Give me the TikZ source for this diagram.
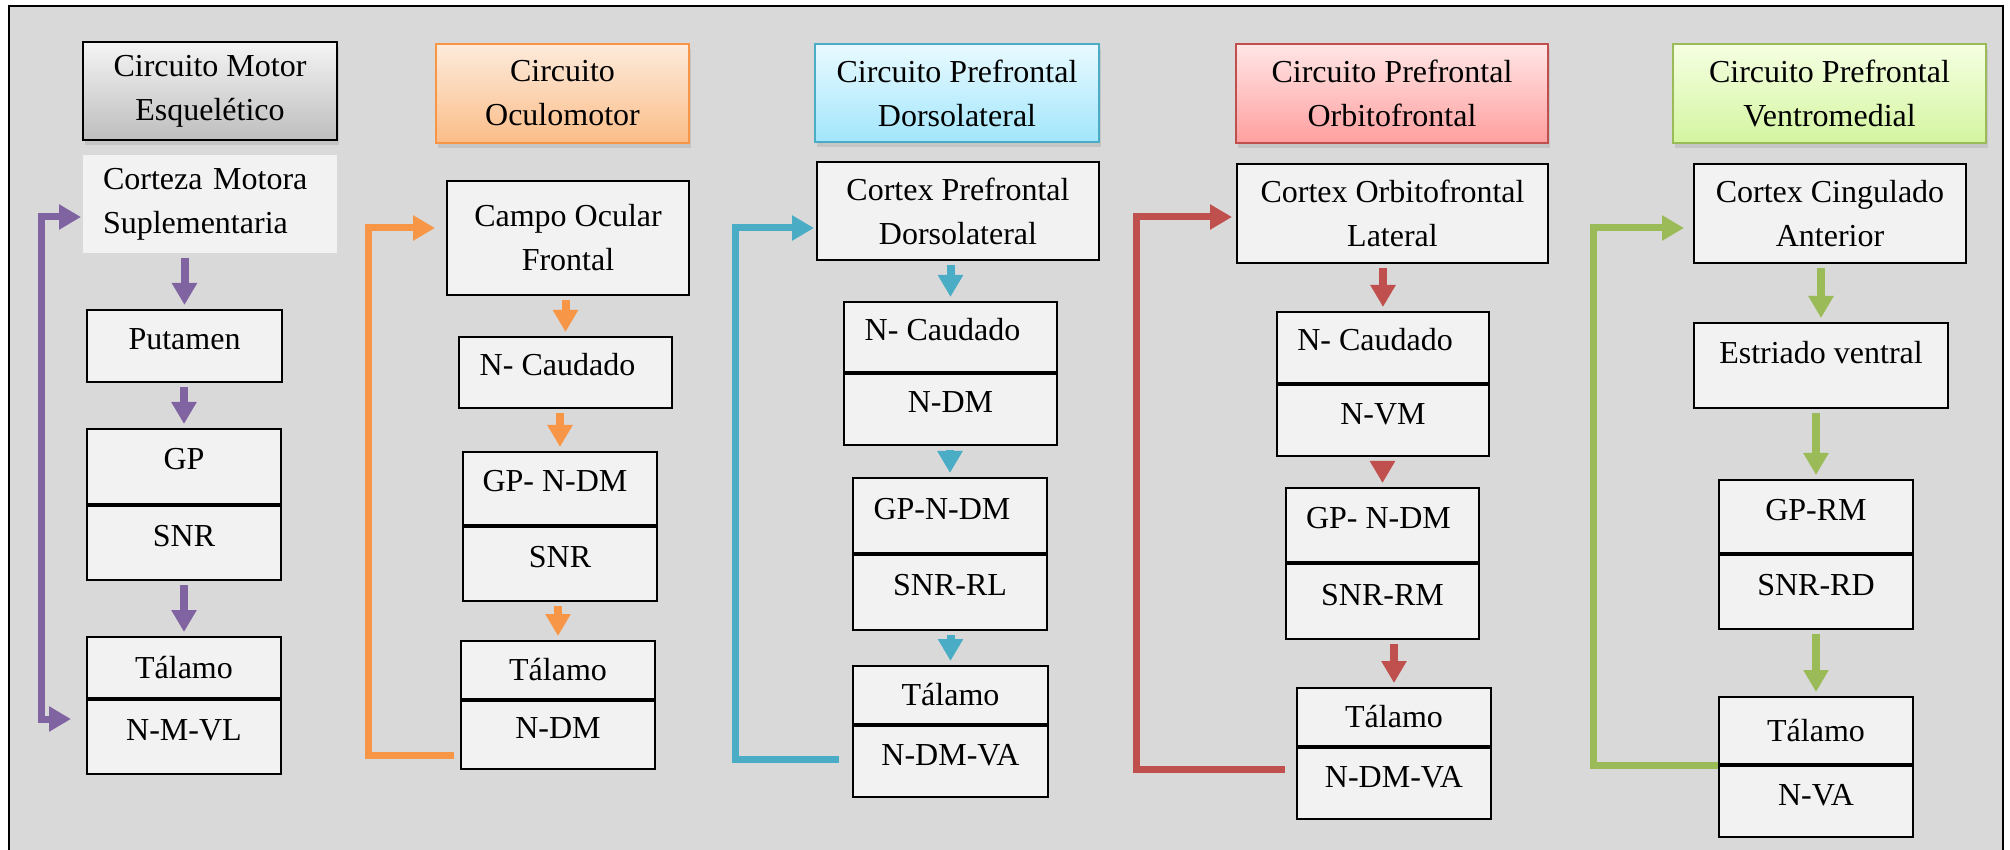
\documentclass[tikz,border=0pt]{standalone}
\usepackage{fontspec}
\setmainfont{Liberation Serif}
\usetikzlibrary{positioning, arrows.meta, shadows}

\definecolor{panel}{HTML}{D9D9D9}
\definecolor{boxfill}{HTML}{F2F2F2}
\definecolor{motorc}{HTML}{8064A2}
\definecolor{oculoc}{HTML}{F79646}
\definecolor{dorsoc}{HTML}{4BACC6}
\definecolor{orbitc}{HTML}{C0504D}
\definecolor{ventroc}{HTML}{9BBB59}
\definecolor{motortop}{HTML}{F4F4F4}
\definecolor{motorbot}{HTML}{BEBEBE}
\definecolor{oculotop}{HTML}{FDEBDC}
\definecolor{oculobot}{HTML}{FBBD88}
\definecolor{dorsotop}{HTML}{E9FAFF}
\definecolor{dorsobot}{HTML}{A2E6FB}
\definecolor{orbittop}{HTML}{FFE6E6}
\definecolor{orbitbot}{HTML}{FF9F9F}
\definecolor{ventrotop}{HTML}{F5FFE2}
\definecolor{ventrobot}{HTML}{D4F5A0}

\begin{document}
\begin{tikzpicture}[x = 0.5pt, y = -0.5pt,
		every node/.style = {font = \fontsize{16}{22}\selectfont},
		box/.style = {draw = black, line width = 1pt, fill = boxfill, inner sep = 0pt, align = center},
		high/.style = {box, text height = 11pt, text depth = 7.5pt},
		mid/.style = {box, text height = 11pt, text depth = 0.5pt},
		head/.style n args = {3}{draw = #1, line width = 1.2pt, top color = #2, bottom color = #3, inner sep = 0pt, align = center, drop shadow = {shadow xshift = 1pt, shadow yshift = -2.5pt, fill = black!30}},
		flow/.style = {line width = 4pt, shorten <= 2pt, shorten >= 2pt, -{Triangle[width = 12pt, length = 11pt]}},
		back/.style = {line width = 3.5pt, -{Triangle[width = 12pt, length = 11pt]}}
	]
		\useasboundingbox (0,0) rectangle (2010,850);
		\draw[line width = 1pt, fill = panel] (9,6) rectangle (2003,860);
	
		\node[head = {black}{motortop}{motorbot}, minimum width = 127pt, minimum height = 49pt] (h1) at (210,91) {Circuito Motor\\Esquelético};
		\node[box, draw = none, minimum width = 127pt, minimum height = 49pt, text width = 107pt, align = left] (c1a) at (210,204) {Corteza Motora\\Suplementaria};
		\node[high, minimum width = 97.5pt, minimum height = 36pt] (c1b) at (184.5,346) {Putamen};
		\node[high, minimum width = 97pt, minimum height = 37.5pt] (c1c) at (184,466.5) {GP};
		\node[high, minimum width = 97pt, minimum height = 37pt, below = 0pt of c1c] (c1d) {SNR};
		\node[mid, minimum width = 97pt, minimum height = 30.5pt] (c1e) at (184,667.5) {Tálamo};
		\node[high, minimum width = 97pt, minimum height = 37pt, below = 0pt of c1e] (c1f) {N-M-VL};
	
		\node[head = {oculoc}{oculotop}{oculobot}, minimum width = 126.5pt, minimum height = 49.5pt] (h2) at (562.5,93.5) {Circuito\\Oculomotor};
		\node[box, minimum width = 121pt, minimum height = 57pt] (c2a) at (568,238) {Campo Ocular\\Frontal};
		\node[high, minimum width = 106.5pt, minimum height = 35.5pt] (c2b) at (565.5,372.5) {N- Caudado\hspace*{8pt}};
		\node[high, minimum width = 97pt, minimum height = 36.5pt] (c2c) at (560,488.5) {GP- N-DM\hspace*{5pt}};
		\node[high, minimum width = 97pt, minimum height = 37pt, below = 0pt of c2c] (c2d) {SNR};
		\node[mid, minimum width = 97pt, minimum height = 29pt] (c2e) at (558,670) {Tálamo};
		\node[high, minimum width = 97pt, minimum height = 34pt, below = 0pt of c2e] (c2f) {N-DM};
	
		\node[head = {dorsoc}{dorsotop}{dorsobot}, minimum width = 142pt, minimum height = 49pt] (h3) at (957,93) {Circuito Prefrontal\\Dorsolateral};
		\node[box, minimum width = 141pt, minimum height = 49pt] (c3a) at (958,211) {Cortex Prefrontal\\Dorsolateral};
		\node[high, minimum width = 106.5pt, minimum height = 35pt] (c3b) at (950.5,337) {N- Caudado\hspace*{8pt}};
		\node[high, minimum width = 106.5pt, minimum height = 35.5pt, below = 0pt of c3b] (c3c) {N-DM};
		\node[high, minimum width = 97pt, minimum height = 37.5pt] (c3d) at (950,515.5) {GP-N-DM\hspace*{8pt}};
		\node[high, minimum width = 97pt, minimum height = 37.5pt, below = 0pt of c3d] (c3e) {SNR-RL};
		\node[mid, minimum width = 97.5pt, minimum height = 29pt] (c3f) at (950.5,695) {Tálamo};
		\node[high, minimum width = 97.5pt, minimum height = 35.5pt, below = 0pt of c3f] (c3g) {N-DM-VA};
	
		\node[head = {orbitc}{orbittop}{orbitbot}, minimum width = 156pt, minimum height = 49.5pt] (h4) at (1392,93.5) {Circuito Prefrontal\\Orbitofrontal};
		\node[box, minimum width = 155.5pt, minimum height = 49.5pt] (c4a) at (1392.5,213.5) {Cortex Orbitofrontal\\Lateral};
		\node[high, minimum width = 106pt, minimum height = 35.5pt] (c4b) at (1383,347.5) {N- Caudado\hspace*{8pt}};
		\node[high, minimum width = 106pt, minimum height = 35.5pt, below = 0pt of c4b] (c4c) {N-VM};
		\node[high, minimum width = 96.5pt, minimum height = 37pt] (c4d) at (1382.5,525) {GP- N-DM\hspace*{4pt}};
		\node[high, minimum width = 96.5pt, minimum height = 37.5pt, below = 0pt of c4d] (c4e) {SNR-RM};
		\node[mid, minimum width = 97pt, minimum height = 29pt] (c4f) at (1394,717) {Tálamo};
		\node[high, minimum width = 97pt, minimum height = 35.5pt, below = 0pt of c4f] (c4g) {N-DM-VA};
	
		\node[head = {ventroc}{ventrotop}{ventrobot}, minimum width = 156.5pt, minimum height = 49.5pt] (h5) at (1829.5,93.5) {Circuito Prefrontal\\Ventromedial};
		\node[box, minimum width = 136pt, minimum height = 49.5pt] (c5a) at (1830,213.5) {Cortex Cingulado\\Anterior};
		\node[box, text height = 11pt, text depth = 12.5pt, minimum width = 127pt, minimum height = 42.5pt] (c5b) at (1821,365.5) {Estriado ventral};
		\node[high, minimum width = 97pt, minimum height = 36.5pt] (c5c) at (1816,516.5) {GP-RM};
		\node[high, minimum width = 97pt, minimum height = 37pt, below = 0pt of c5c] (c5d) {SNR-RD};
		\node[mid, minimum width = 97pt, minimum height = 33.5pt] (c5e) at (1816,730.5) {Tálamo};
		\node[high, minimum width = 97pt, minimum height = 35.5pt, below = 0pt of c5e] (c5f) {N-VA};
	
		\begin{scope}[flow]
			\draw[motorc] (c1b.north |- c1a.south) -- (c1b.north);
			\draw[motorc] (c1c.north |- c1b.south) -- (c1c.north);
			\draw[motorc] (c1e.north |- c1d.south) -- (c1e.north);
			\draw[oculoc] (c2b.north |- c2a.south) -- (c2b.north);
			\draw[oculoc] (c2c.north |- c2b.south) -- (c2c.north);
			\draw[oculoc] (c2e.north |- c2d.south) -- (c2e.north);
			\draw[dorsoc] (c3b.north |- c3a.south) -- (c3b.north);
			\draw[dorsoc] (c3d.north |- c3c.south) -- (c3d.north);
			\draw[dorsoc] (c3f.north |- c3e.south) -- (c3f.north);
			\draw[orbitc] (c4b.north |- c4a.south) -- (c4b.north);
			\draw[orbitc] (c4d.north |- c4c.south) -- (c4d.north);
			\draw[orbitc] (c4f.north |- c4e.south) -- (c4f.north);
			\draw[ventroc] (c5b.north |- c5a.south) -- (c5b.north);
			\draw[ventroc] (c5c.north |- c5b.south) -- (c5c.north);
			\draw[ventroc] (c5e.north |- c5d.south) -- (c5e.north);
		\end{scope}
	
		\draw[back, motorc, {Triangle[width = 12pt, length = 11pt]}-{Triangle[width = 12pt, length = 11pt]}] ([xshift = -7.5pt, yshift = 9pt]c1f.west) -| (41,217) -- ([xshift = -0.5pt, yshift = -6.5pt]c1a.west);
		\draw[back, oculoc] ([xshift = -3pt, yshift = -10pt]c2f.west) -| (368,228) -- ([xshift = -5.5pt, yshift = 5pt]c2a.west);
		\draw[back, dorsoc] ([xshift = -6.5pt, yshift = 1.25pt]c3g.west) -| (735,228) -- ([xshift = -1pt, yshift = -8.5pt]c3a.west);
		\draw[back, orbitc] ([xshift = -5.5pt, yshift = 7.25pt]c4g.west) -| (1136,217) -- ([xshift = -2pt, yshift = -1.75pt]c4a.west);
		\draw[back, ventroc] (c5e.south west) -| (1593,228) -- ([xshift = -4.5pt, yshift = -7.25pt]c5a.west);
	\end{tikzpicture}
\end{document}
